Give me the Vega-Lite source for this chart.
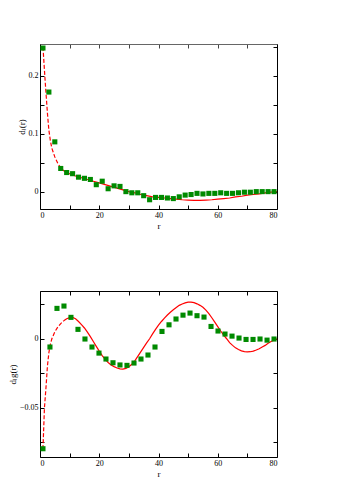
{
  "$schema": "https://vega.github.io/schema/vega-lite/v6.json",
  "padding": {"left": 8, "top": 43, "right": 5, "bottom": 5},
  "background": "white",
  "spacing": 60,
  "datasets": {
    "top_pts": [
      {"x": 1, "y": 0.248}, {"x": 3, "y": 0.172}, {"x": 5, "y": 0.086}, {"x": 7, "y": 0.040},
      {"x": 9, "y": 0.033}, {"x": 11, "y": 0.031}, {"x": 13, "y": 0.025}, {"x": 15, "y": 0.023},
      {"x": 17, "y": 0.021}, {"x": 19, "y": 0.012}, {"x": 21, "y": 0.018}, {"x": 23, "y": 0.005},
      {"x": 25, "y": 0.010}, {"x": 27, "y": 0.009}, {"x": 29, "y": 0.000}, {"x": 31, "y": -0.002},
      {"x": 33, "y": -0.002}, {"x": 35, "y": -0.007}, {"x": 37, "y": -0.014}, {"x": 39, "y": -0.010},
      {"x": 41, "y": -0.010}, {"x": 43, "y": -0.011}, {"x": 45, "y": -0.012}, {"x": 47, "y": -0.009},
      {"x": 49, "y": -0.006}, {"x": 51, "y": -0.005}, {"x": 53, "y": -0.003}, {"x": 55, "y": -0.004},
      {"x": 57, "y": -0.003}, {"x": 59, "y": -0.003}, {"x": 61, "y": -0.002}, {"x": 63, "y": -0.003},
      {"x": 65, "y": -0.003}, {"x": 67, "y": -0.002}, {"x": 69, "y": -0.001}, {"x": 71, "y": -0.001},
      {"x": 73, "y": 0.000}, {"x": 75, "y": 0.000}, {"x": 77, "y": 0.000}, {"x": 79, "y": 0.000}
    ],
    "top_fit": [
      {"x": 1, "y": 0.25}, {"x": 1.25, "y": 0.23}, {"x": 1.5, "y": 0.21}, {"x": 1.75, "y": 0.19},
      {"x": 2, "y": 0.172}, {"x": 2.5, "y": 0.136}, {"x": 3, "y": 0.106}, {"x": 3.5, "y": 0.088},
      {"x": 4, "y": 0.075}, {"x": 5, "y": 0.060}, {"x": 6, "y": 0.049}, {"x": 7, "y": 0.041},
      {"x": 8, "y": 0.036}, {"x": 10, "y": 0.031}, {"x": 12, "y": 0.027}, {"x": 14, "y": 0.024},
      {"x": 16, "y": 0.021}, {"x": 18, "y": 0.018}, {"x": 20, "y": 0.015}, {"x": 22, "y": 0.012},
      {"x": 24, "y": 0.009}, {"x": 26, "y": 0.006}, {"x": 28, "y": 0.003}, {"x": 30, "y": 0.0},
      {"x": 32, "y": -0.002}, {"x": 34, "y": -0.005}, {"x": 36, "y": -0.007}, {"x": 38, "y": -0.009},
      {"x": 40, "y": -0.010}, {"x": 42, "y": -0.011}, {"x": 44, "y": -0.012}, {"x": 46, "y": -0.013},
      {"x": 48, "y": -0.014}, {"x": 50, "y": -0.0145}, {"x": 52, "y": -0.015}, {"x": 54, "y": -0.015},
      {"x": 56, "y": -0.0145}, {"x": 58, "y": -0.014}, {"x": 60, "y": -0.013}, {"x": 62, "y": -0.012},
      {"x": 64, "y": -0.011}, {"x": 66, "y": -0.009}, {"x": 68, "y": -0.008}, {"x": 70, "y": -0.006},
      {"x": 72, "y": -0.005}, {"x": 74, "y": -0.004}, {"x": 76, "y": -0.002}, {"x": 78, "y": -0.001},
      {"x": 80, "y": 0.0}
    ],
    "bot_pts": [
      {"x": 1, "y": -0.0797}, {"x": 3.36, "y": -0.006}, {"x": 5.73, "y": 0.022}, {"x": 8.09, "y": 0.0237},
      {"x": 10.45, "y": 0.0155}, {"x": 12.82, "y": 0.0068}, {"x": 15.18, "y": -0.0002}, {"x": 17.55, "y": -0.006},
      {"x": 19.91, "y": -0.0104}, {"x": 22.27, "y": -0.0147}, {"x": 24.64, "y": -0.0174}, {"x": 27, "y": -0.019},
      {"x": 29.36, "y": -0.0193}, {"x": 31.73, "y": -0.0176}, {"x": 34.09, "y": -0.0147}, {"x": 36.45, "y": -0.0118},
      {"x": 38.82, "y": -0.006}, {"x": 41.18, "y": 0.0053}, {"x": 43.55, "y": 0.0101}, {"x": 45.91, "y": 0.0143},
      {"x": 48.27, "y": 0.0171}, {"x": 50.64, "y": 0.0186}, {"x": 53, "y": 0.0167}, {"x": 55.36, "y": 0.0157},
      {"x": 57.73, "y": 0.0089}, {"x": 60.09, "y": 0.0056}, {"x": 62.45, "y": 0.0034}, {"x": 64.82, "y": 0.0019},
      {"x": 67.18, "y": 0.0005}, {"x": 69.55, "y": -0.0005}, {"x": 71.91, "y": -0.0005}, {"x": 74.27, "y": -0.0002},
      {"x": 76.64, "y": -0.001}, {"x": 79, "y": -0.0002}
    ],
    "bot_fit": [
      {"x": 1, "y": -0.08}, {"x": 1.5, "y": -0.05}, {"x": 2, "y": -0.036}, {"x": 2.5, "y": -0.02},
      {"x": 3, "y": -0.01}, {"x": 3.5, "y": -0.004}, {"x": 4, "y": 0.0}, {"x": 5, "y": 0.005},
      {"x": 6, "y": 0.0085}, {"x": 7, "y": 0.011}, {"x": 8, "y": 0.013}, {"x": 9, "y": 0.0145},
      {"x": 10, "y": 0.0153}, {"x": 11, "y": 0.0155}, {"x": 12, "y": 0.0145}, {"x": 13, "y": 0.0125},
      {"x": 14, "y": 0.0102}, {"x": 15, "y": 0.0078}, {"x": 16, "y": 0.0048}, {"x": 17, "y": 0.0015},
      {"x": 18, "y": -0.002}, {"x": 19, "y": -0.0055}, {"x": 20, "y": -0.009}, {"x": 21, "y": -0.0122},
      {"x": 22, "y": -0.015}, {"x": 23, "y": -0.0172}, {"x": 24, "y": -0.019}, {"x": 25, "y": -0.0202},
      {"x": 26, "y": -0.0212}, {"x": 27, "y": -0.0218}, {"x": 28, "y": -0.022}, {"x": 29, "y": -0.0215},
      {"x": 30, "y": -0.0203}, {"x": 31, "y": -0.0185}, {"x": 32, "y": -0.016}, {"x": 33, "y": -0.0128},
      {"x": 34, "y": -0.0095}, {"x": 35, "y": -0.0062}, {"x": 36, "y": -0.003}, {"x": 37, "y": 0.0},
      {"x": 38, "y": 0.0035}, {"x": 39, "y": 0.0068}, {"x": 40, "y": 0.0098}, {"x": 41, "y": 0.0125},
      {"x": 42, "y": 0.015}, {"x": 43, "y": 0.0172}, {"x": 44, "y": 0.0192}, {"x": 45, "y": 0.021},
      {"x": 46, "y": 0.0226}, {"x": 47, "y": 0.0242}, {"x": 48, "y": 0.0252}, {"x": 49, "y": 0.026},
      {"x": 50, "y": 0.0265}, {"x": 51, "y": 0.0266}, {"x": 52, "y": 0.0262}, {"x": 53, "y": 0.0253},
      {"x": 54, "y": 0.0242}, {"x": 55, "y": 0.0228}, {"x": 56, "y": 0.0208}, {"x": 57, "y": 0.0182},
      {"x": 58, "y": 0.0152}, {"x": 59, "y": 0.012}, {"x": 60, "y": 0.0088}, {"x": 61, "y": 0.0056},
      {"x": 62, "y": 0.0026}, {"x": 63, "y": 0.0}, {"x": 64, "y": -0.0028}, {"x": 65, "y": -0.0048},
      {"x": 66, "y": -0.0066}, {"x": 67, "y": -0.0078}, {"x": 68, "y": -0.0088}, {"x": 69, "y": -0.0093},
      {"x": 70, "y": -0.0095}, {"x": 71, "y": -0.0094}, {"x": 72, "y": -0.009}, {"x": 73, "y": -0.0082},
      {"x": 74, "y": -0.0072}, {"x": 75, "y": -0.006}, {"x": 76, "y": -0.0048}, {"x": 77, "y": -0.0033},
      {"x": 78, "y": -0.002}, {"x": 79, "y": -0.001}, {"x": 80, "y": 0.0}
    ]
  },
  "vconcat": [
    {
      "width": 237,
      "height": 165,
      "layer": [
        {
          "data": {"name": "top_fit"},
          "transform": [{"filter": "datum.x <= 7"}],
          "mark": {"type": "line", "color": "#ff0000", "strokeWidth": 1.2, "strokeDash": [4, 2]},
          "encoding": {
            "x": {"field": "x", "type": "quantitative", "scale": {"domain": [0, 80], "nice": false},
                  "axis": {"orient": "top", "values": [0, 10, 20, 30, 40, 50, 60, 70, 80], "labels": false, "title": null, "domainColor": "#666666", "tickColor": "#444444"}},
            "y": {"field": "y", "type": "quantitative", "scale": {"domain": [-0.03, 0.255], "nice": false, "zero": false},
                  "axis": {"orient": "right", "values": [0, 0.05, 0.1, 0.15, 0.2, 0.25], "labels": false, "title": null}}
          }
        },
        {
          "data": {"name": "top_fit"},
          "transform": [{"filter": "datum.x >= 7"}],
          "mark": {"type": "line", "color": "#ff0000", "strokeWidth": 1.2},
          "encoding": {
            "x": {"field": "x", "type": "quantitative", "axis": null},
            "y": {"field": "y", "type": "quantitative", "axis": null}
          }
        },
        {
          "data": {"name": "top_pts"},
          "mark": {"type": "square", "color": "#008a00", "opacity": 1, "size": 26},
          "encoding": {
            "x": {"field": "x", "type": "quantitative",
                  "axis": {"orient": "bottom", "values": [0, 10, 20, 30, 40, 50, 60, 70, 80], "format": "d", "labelExpr": "datum.value % 20 == 0 ? datum.label : ''", "title": "r"}},
            "y": {"field": "y", "type": "quantitative",
                  "axis": {"orient": "left", "values": [0, 0.05, 0.1, 0.15, 0.2, 0.25], "labelExpr": "abs(datum.value*10 - round(datum.value*10)) < 0.001 ? format(datum.value, '~g') : ''", "title": "dₗ(r)"}}
          }
        }
      ]
    },
    {
      "width": 237,
      "height": 166,
      "layer": [
        {
          "data": {"name": "bot_fit"},
          "transform": [{"filter": "datum.x <= 8"}],
          "mark": {"type": "line", "color": "#ff0000", "strokeWidth": 1.2, "strokeDash": [4, 2]},
          "encoding": {
            "x": {"field": "x", "type": "quantitative", "scale": {"domain": [0, 80], "nice": false},
                  "axis": {"orient": "top", "values": [0, 10, 20, 30, 40, 50, 60, 70, 80], "labels": false, "title": null}},
            "y": {"field": "y", "type": "quantitative", "scale": {"domain": [-0.0857, 0.0346], "nice": false, "zero": false},
                  "axis": {"orient": "right", "values": [-0.075, -0.05, -0.025, 0, 0.025], "labels": false, "title": null}}
          }
        },
        {
          "data": {"name": "bot_fit"},
          "transform": [{"filter": "datum.x >= 8"}],
          "mark": {"type": "line", "color": "#ff0000", "strokeWidth": 1.2},
          "encoding": {
            "x": {"field": "x", "type": "quantitative", "axis": null},
            "y": {"field": "y", "type": "quantitative", "axis": null}
          }
        },
        {
          "data": {"name": "bot_pts"},
          "mark": {"type": "square", "color": "#008a00", "opacity": 1, "size": 26},
          "encoding": {
            "x": {"field": "x", "type": "quantitative",
                  "axis": {"orient": "bottom", "values": [0, 10, 20, 30, 40, 50, 60, 70, 80], "format": "d", "labelExpr": "datum.value % 20 == 0 ? datum.label : ''", "title": "r"}},
            "y": {"field": "y", "type": "quantitative",
                  "axis": {"orient": "left", "values": [-0.075, -0.05, -0.025, 0, 0.025], "labelExpr": "abs(datum.value*20 - round(datum.value*20)) < 0.001 ? format(datum.value, '~g') : ''", "title": "dₗg(r)"}}
          }
        }
      ]
    }
  ],
  "config": {
    "font": "Liberation Serif",
    "view": {"stroke": null},
    "axis": {
      "labelFont": "Liberation Serif", "labelFontSize": 8, "labelColor": "black",
      "titleFont": "Liberation Serif", "titleFontSize": 9, "titleFontWeight": "normal", "titleColor": "black",
      "grid": false, "domainColor": "black", "domainWidth": 1, "tickColor": "black", "tickSize": -4,
      "labelPadding": 6, "titlePadding": 2
    }
  }
}
